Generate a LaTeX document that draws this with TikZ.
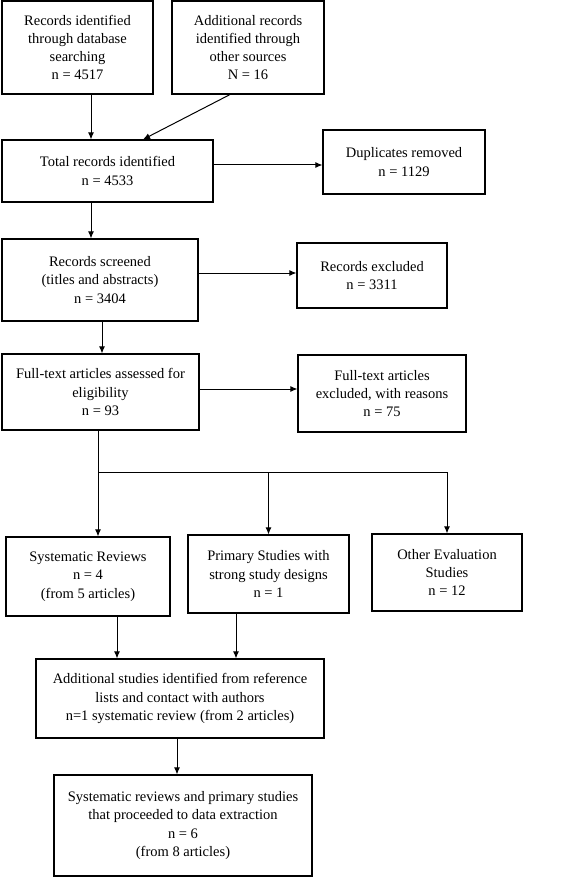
\documentclass[tikz,border=0pt]{standalone}
\usepackage{fontspec}
\setmainfont{Liberation Serif}
\usetikzlibrary{arrows.meta}
\begin{document}
\begin{tikzpicture}[x=1pt,y=-1pt,
  box/.style={draw, line width=1.1pt, rectangle, align=center, inner sep=2pt,
    font=\fontsize{14.5}{18.3}\selectfont},
  arr/.style={line width=1pt, -{Latex[length=7pt,width=6pt]}},
  ln/.style={line width=1pt}]
\useasboundingbox (0,0) rectangle (568,877);
\node[box, minimum width=151pt, minimum height=93pt] (b1) at (77.5,47.5) {Records identified\\through database\\searching\\n = 4517};
\node[box, minimum width=152pt, minimum height=93pt] (b2) at (248,47.5) {Additional records\\identified through\\other sources\\N = 16};
\node[box, minimum width=211pt, minimum height=62pt] (tot) at (107.5,171) {Total records identified\\n = 4533};
\node[box, minimum width=162pt, minimum height=64pt] (dup) at (404,162) {Duplicates removed\\n = 1129};
\node[box, minimum width=196pt, minimum height=82pt] (scr) at (100,280) {Records screened\\(titles and abstracts)\\n = 3404};
\node[box, minimum width=150pt, minimum height=65pt] (rex) at (372,275.5) {Records excluded\\n = 3311};
\node[box, minimum width=197pt, minimum height=76pt] (full) at (100.5,392) {Full-text articles assessed for\\eligibility\\n = 93};
\node[box, minimum width=168pt, minimum height=77pt] (fex) at (382,393.5) {Full-text articles\\excluded, with reasons\\n = 75};
\node[box, minimum width=164pt, minimum height=79pt] (sr) at (88,576.5) {Systematic Reviews\\n = 4\\(from 5 articles)};
\node[box, minimum width=161pt, minimum height=78pt] (ps) at (268.5,574) {Primary Studies with\\strong study designs\\n = 1};
\node[box, minimum width=150pt, minimum height=77pt] (oe) at (447,572.5) {Other Evaluation\\Studies\\n = 12};
\node[box, minimum width=288pt, minimum height=79pt] (add) at (180,698.5) {Additional studies identified from reference\\lists and contact with authors\\n=1 systematic review (from 2 articles)};
\node[box, minimum width=258pt, minimum height=101pt] (fin) at (183,825.5) {Systematic reviews and primary studies\\that proceeded to data extraction\\n = 6\\(from 8 articles)};
\coordinate (split) at (98,472);
\coordinate (splitR) at (447,472);
\draw[arr] (b1.south -| 91,0) -- (tot.north -| 91,0);
\draw[arr] (b2.south -| 230,0) -- (tot.north -| 143,0);
\draw[arr] (tot.east |- 0,165) -- (dup.west |- 0,165);
\draw[arr] (tot.south -| 91,0) -- (scr.north -| 91,0);
\draw[arr] (scr.east |- 0,273) -- (rex.west |- 0,273);
\draw[arr] (scr.south -| 102,0) -- (full.north -| 102,0);
\draw[arr] (full.east |- 0,389) -- (fex.west |- 0,389);
\draw[arr] (full.south -| split) -- (sr.north -| split);
\draw[ln] (split) -- (splitR);
\draw[arr] (split -| ps.north) -- (ps.north);
\draw[arr] (splitR) -- (oe.north);
\draw[arr] (sr.south -| 117,0) -- (add.north -| 117,0);
\draw[arr] (ps.south -| 236,0) -- (add.north -| 236,0);
\draw[arr] (add.south -| 177,0) -- (fin.north -| 177,0);
\end{tikzpicture}
\end{document}
